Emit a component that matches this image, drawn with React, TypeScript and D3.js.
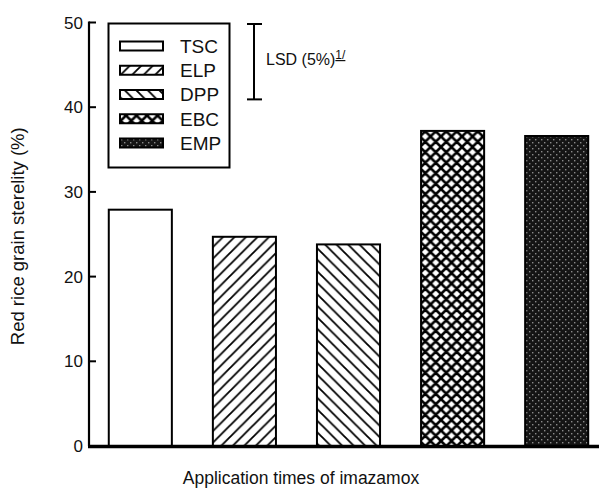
import React from "react";
import * as d3 from "d3";

const categories = ["TSC", "ELP", "DPP", "EBC", "EMP"];
const values = [27.9, 24.7, 23.8, 37.2, 36.6];
const yTicks = [0, 10, 20, 30, 40, 50];
const patterns = ["none", "elp", "dpp", "ebc", "emp"];
const lsdValue = 8.9;
const yLabel = "Red rice grain sterelity (%)";
const xLabel = "Application times of imazamox";

const W = 599;
const H = 489;
const FONT = "'Liberation Sans', Arial, Helvetica, sans-serif";

export default function App() {
  const y = d3.scaleLinear().domain([0, 50]).range([446, 22.5]);
  const x = d3
    .scaleBand<string>()
    .domain(categories)
    .range([89, 608])
    .paddingInner(0.394)
    .paddingOuter(0.19);
  const fillFor = (p: string) => (p === "none" ? "#fff" : `url(#${p})`);
  const legendY = d3.scalePoint<string>().domain(categories).range([46, 143]);
  const lsdTop = y(50) + 1.5;
  const lsdBottom = lsdTop + (y(0) - y(lsdValue));

  return (
    <svg
      width={W}
      height={H}
      style={{ position: "absolute", left: 0, top: 0, background: "#fff" }}
      fontFamily={FONT}
    >
      <defs>
        <pattern id="elp" patternUnits="userSpaceOnUse" width={11.5} height={11.5}>
          <rect width={11.5} height={11.5} fill="#fff" />
          <path d="M-2,2 L2,-2 M0,11.5 L11.5,0 M9.5,13.5 L13.5,9.5" stroke="#000" strokeWidth={1.8} />
        </pattern>
        <pattern id="dpp" patternUnits="userSpaceOnUse" width={11.5} height={11.5}>
          <rect width={11.5} height={11.5} fill="#fff" />
          <path d="M-2,9.5 L2,13.5 M0,0 L11.5,11.5 M9.5,-2 L13.5,2" stroke="#000" strokeWidth={1.8} />
        </pattern>
        <pattern id="ebc" patternUnits="userSpaceOnUse" width={10.5} height={10.5}>
          <rect width={10.5} height={10.5} fill="#fff" />
          <path
            d="M-2,2 L2,-2 M0,10.5 L10.5,0 M8.5,12.5 L12.5,8.5 M-2,8.5 L2,12.5 M0,0 L10.5,10.5 M8.5,-2 L12.5,2"
            stroke="#000"
            strokeWidth={2.6}
          />
        </pattern>
        <pattern id="emp" patternUnits="userSpaceOnUse" width={6} height={6}>
          <rect width={6} height={6} fill="#151515" />
          <rect x={1} y={1} width={1.4} height={1.4} fill="#8a8a8a" />
          <rect x={4} y={4} width={1.4} height={1.4} fill="#8a8a8a" />
        </pattern>
      </defs>

      {/* bars */}
      {categories.map((c, i) => (
        <rect
          key={c}
          x={x(c)}
          y={y(values[i])}
          width={x.bandwidth()}
          height={y(0) - y(values[i])}
          fill={fillFor(patterns[i])}
          stroke="#000"
          strokeWidth={2}
        />
      ))}

      {/* y axis */}
      <line x1={89} x2={89} y1={y(50) - 1} y2={y(0)} stroke="#000" strokeWidth={2.2} />
      {yTicks.map((t) => (
        <g key={t}>
          <line x1={89} x2={96} y1={y(t)} y2={y(t)} stroke="#000" strokeWidth={2} />
          <text x={83} y={y(t)} dy="0.36em" textAnchor="end" fontSize={17} fill="#111">
            {t}
          </text>
        </g>
      ))}
      {/* x axis */}
      <line x1={88} x2={599} y1={y(0) + 0.5} y2={y(0) + 0.5} stroke="#000" strokeWidth={3.4} />

      {/* axis titles */}
      <text
        transform={`translate(24,${(y(0) + y(50)) / 2 + 2}) rotate(-90)`}
        textAnchor="middle"
        fontSize={18.5}
        fill="#111"
      >
        {yLabel}
      </text>
      <text x={301} y={484} textAnchor="middle" fontSize={17.5} fill="#111">
        {xLabel}
      </text>

      {/* legend */}
      <rect x={108.5} y={23.5} width={121} height={144} fill="#fff" stroke="#000" strokeWidth={2} />
      {categories.map((c, i) => (
        <g key={c}>
          <rect
            x={120}
            y={(legendY(c) as number) - 4.5}
            width={43}
            height={9}
            fill={fillFor(patterns[i])}
            stroke="#000"
            strokeWidth={2}
          />
          <text x={180} y={legendY(c) as number} dy="0.36em" fontSize={19} fill="#111">
            {c}
          </text>
        </g>
      ))}

      {/* LSD bar */}
      <line x1={254} x2={254} y1={lsdTop} y2={lsdBottom} stroke="#000" strokeWidth={2} />
      <line x1={247} x2={262} y1={lsdTop} y2={lsdTop} stroke="#000" strokeWidth={2} />
      <line x1={247} x2={262} y1={lsdBottom} y2={lsdBottom} stroke="#000" strokeWidth={2} />
      <text x={266} y={65} fontSize={16} fill="#111">
        LSD (5%)
        <tspan dy={-6} fontSize={12} textDecoration="underline">
          1/
        </tspan>
      </text>
    </svg>
  );
}
